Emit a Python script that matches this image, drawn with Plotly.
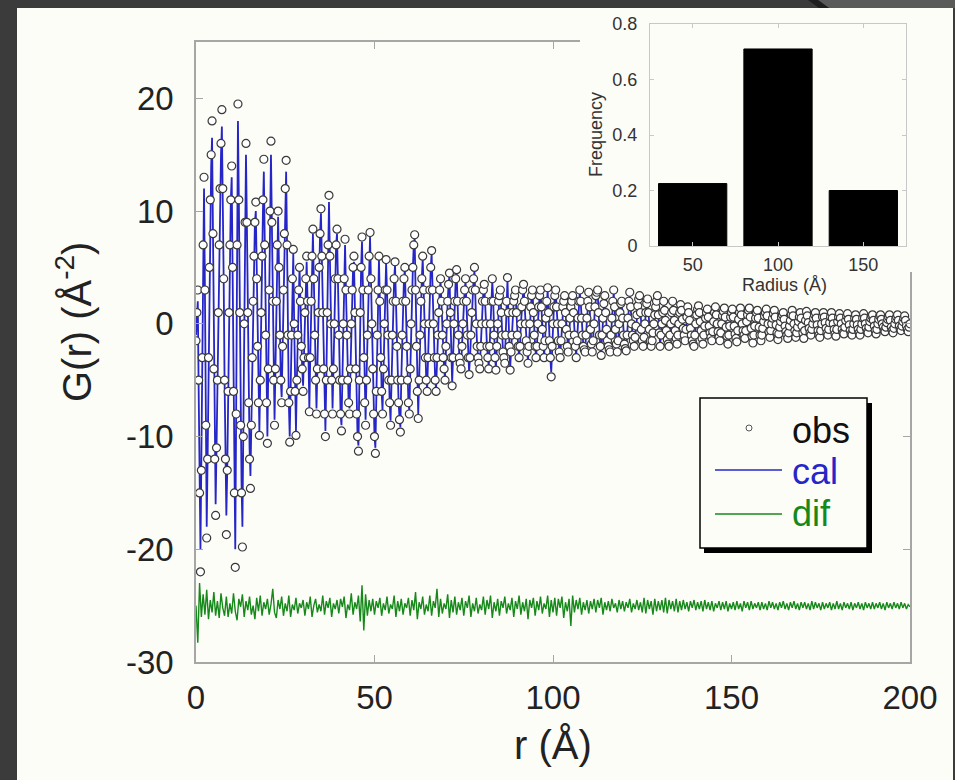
import plotly.graph_objects as go

W, H = 955, 780
FONT = "Liberation Sans, Arial, sans-serif"

r = [i * 0.25 for i in range(801)]

obs = [
    -1.5, 1, 3, -5, -15, -22, -13, -3, 7, 13,
    3, -9, -19, -12, -3, 5, 11, 15, 18, 8,
    -4, -12, -17, -11, -5, 1, 7, 12, 16, 19,
    12, 4, -5, -12, -18.7, -13, -6, 1, 7, 11,
    14, 5, -6, -15, -21.6, -8, 7, 19.5, 11, 1,
    -9, -15, -19.8, -10, 0, 9, 16, 9, 1, -7,
    -12, -14.6, -9, -3, 2, 6, 9, 10.8, 4, -2,
    -7, -9.9, -5, 1, 6, 11, 14.6, 7, -1, -7,
    -10.6, -4, 3, 10, 16.2, 9, 2, -5, -9, -4,
    2, 7, 10, 5, -1, -5, -7, -2, 3, 8,
    12, 14.5, 7, -1, -7, -10.5, -6, -1, 4, 6.6,
    0, -6, -9.9, -5, -1, 3, 5, 2, -2, -4,
    -6, -3, 1, 4, 6, 2, -3, -7.8, -3, 2,
    6, 8.4, 4, -1, -5, -8, -4, 1, 5, 8,
    10.2, 6, 1, -4, -8, -10, -5, 1, 7, 11.4,
    6, 0, -5, -8, -4, 0, 4, 7, 8.4, 4,
    -1, -5, -8, -9.5, -5, 0, 4, 7.5, 3, -1,
    -5, -7, -8, -4, 0, 3, 5, 6, 1, -4,
    -8, -10, -11.3, -5, 1, 5, 7.7, 3, -3, -7,
    -9, -5, -1, 3, 6, 8.1, 4, 0, -4, -8,
    -10, -11.5, -6, -1, 3, 6, 2, -3, -6, -8,
    -4, 0, 3, 5.7, 3, -1, -5, -7, -9, -5,
    -1, 2, 4, 5.5, 2, -2, -5, -7, -8.5, -9.6,
    -5, -1, 2, 4, 5, 2, -2, -5, -7, -8,
    -4, 0, 3, 5, 7, 7.9, 3, -2, -6, -8.4,
    -5, -1, 2, 4, 6, 3, 0, -3, -5, -6,
    -3, 0, 3, 5, 6.5, 3, 0, -3, -5, -6,
    -3, -1, 1, 3, 4, 2, -1, -3, -4, -5,
    -2, 0, 2, 3.5, 4.5, 1, -3, -5.5, -3, 0,
    2, 4, 4.8, 2, -1, -3, -3.5, -4, -2, 0,
    2, 3, 4, 2, -1, -3, -4.5, -3, -1, 1,
    3, 4, 5, 3, 0, -2, -3, -3.5, -4, -2,
    0, 2, 3, 3.5, 2, 0, -2, -3, -4, -2,
    0, 2, 4, 2, -1, -3, -4.1, -2, 0, 2,
    2.5, 3, 1, -1, -2.5, -3, -3.5, -1, 2, 4.1,
    1, -2, -4.1, -2.5, -1, 1, 2, 2.5, 3, 1,
    -1, -2, -3, -2, 0, 1.5, 3, 3.5, 2, 0,
    -1.5, -2.5, -3.5, -2, 0, 1.5, 2.5, 3, 1, -1,
    -2, -3, -2, 0, 1.5, 2.5, 3, 1.5, -0.5, -2,
    -3, -1.5, 0.5, 2, 3.2, 1, -1.5, -3, -4.7, -2,
    0, 1.5, 2.5, 3, 1.5, 0, -1.5, -2.5, -3, -1.5,
    0, 1.5, 2, 2.5, 1, -0.5, -2, -2.5, -1, 0.5,
    1.5, 2, 2.5, 1, -1, -2, -3, -1.5, 0.5, 2,
    3, 2, 0.5, -1, -2, -2.3, -2.5, -1, 0.5, 2,
    2.8, 1.5, -0.5, -1.8, -2.5, -1.5, 0, 1.5, 2.5, 2.8,
    3, 1, -1, -2, -2.8, -1, 0.5, 1.8, 2.5, 1,
    -0.5, -1.5, -2, -2.3, -2.5, -1, 0.5, 2, 3, 1.5,
    -0.5, -1.8, -2.5, -1.5, 0, 1, 1.8, 2, 0.5, -1,
    -1.8, -2.2, -2.4, -1, 0.5, 2, 2.8, 1.5, 0, -1,
    -1.5, -2, -1.2, -0.2, 0.8, 1.6, 2.2, 2.5, 1, -0.5,
    -1.5, -2, -1.2, 0, 1, 1.8, 2.2, 1, -0.5, -1.5,
    -2, -1.5, -0.8, 0, 0.8, 1.5, 2, 2.5, 0.8, -0.8,
    -2, -1, 0, 1, 2, 1.2, 0.3, -0.6, -1.4, -1.8,
    -2, -1, 0, 1, 2, 1.2, 0.3, -0.6, -1.3, -1.8,
    -1, 0, 1, 1.7, 1.2, 0.4, -0.4, -1, -1.5, -0.5,
    0.6, 1.5, 1, 0.3, -0.4, -1, -1.5, -1.8, -2, -1,
    0, 0.8, 1.3, 1.6, 1, 0.2, -0.6, -1.3, -1.8, -1,
    -0.2, 0.5, 1, 1.3, 0.6, -0.2, -0.8, -1.2, -1.5, -0.7,
    0.2, 1, 1.5, 0.8, 0, -0.7, -1.2, -1.5, -0.8, 0,
    0.7, 1.1, 1.4, 0.6, -0.3, -1.1, -1.8, -1, -0.2, 0.6,
    1, 1.3, 0.6, -0.2, -0.9, -1.3, -1.6, -0.6, 0.4, 1,
    1.4, 0.8, 0, -0.6, -1, -1.3, -0.6, 0.2, 0.8, 1.2,
    1.4, 0.6, -0.4, -1.1, -1.7, -1, -0.2, 0.5, 1, 1.2,
    0.5, -0.3, -1, -1.5, -1, -0.4, 0.2, 0.7, 1, 1.3,
    0.7, 0, -0.7, -1.2, -0.6, 0, 0.5, 0.9, 1.2, 0.6,
    -0.1, -0.8, -1.4, -0.9, -0.3, 0.2, 0.6, 0.8, 1, 0.4,
    -0.2, -0.7, -1, -1.3, -0.8, -0.2, 0.3, 0.8, 1.2, 0.7,
    0, -0.6, -1.2, -0.8, -0.3, 0.2, 0.6, 1, 0.5, -0.2,
    -0.8, -1.3, -0.6, 0.3, 1.1, 0.7, 0.1, -0.4, -0.8, -1,
    -0.5, 0, 0.5, 0.8, 1, 0.5, -0.1, -0.6, -1, -1.2,
    -0.6, 0, 0.6, 1, 0.6, 0.1, -0.4, -0.8, -1, -0.5,
    0.1, 0.6, 1, 0.5, 0, -0.5, -0.9, -1.1, -0.5, 0.2,
    0.6, 0.9, 0.5, 0, -0.5, -0.8, -0.9, -0.3, 0.3, 0.7,
    0.9, 0.4, -0.1, -0.6, -0.9, -1, -0.5, 0, 0.5, 0.8,
    0.4, -0.1, -0.5, -0.8, -1, -0.5, 0, 0.5, 0.9, 0.5,
    0, -0.4, -0.7, -0.8, -0.3, 0.2, 0.5, 0.7, 0.8, 0.3,
    -0.2, -0.6, -0.9, -0.5, 0, 0.4, 0.7, 0.8, 0.4, 0,
    -0.3, -0.6, -0.7, -0.3, 0.1, 0.4, 0.6, 0.8, 0.3, -0.3,
    -0.6, -0.8, -0.4, 0, 0.4, 0.6, 0.8, 0.3, -0.2, -0.5,
    -0.6, -0.2, 0.2, 0.5, 0.7, 0.3, -0.2, -0.5, -0.7, -0.3,
    0,
]

cal = [
    -1, 0.5, 2, -6, -16, -20, -12, -3, 6, 12,
    3, -8, -18, -12, -4, 4, 10, 14, 16.5, 8,
    -3, -11, -16, -11, -5, 1, 6, 11, 15, 17.5,
    12, 4, -5, -12, -17, -13, -6, 1, 7, 11,
    13, 5, -6, -14, -20, -8, 6, 18, 11, 1,
    -9, -14, -18, -10, 0, 8, 15, 9, 1, -7,
    -11, -13.5, -9, -3, 2, 6, 9, 10, 4, -2,
    -7, -9.5, -5, 1, 6, 10, 13.5, 7, -1, -7,
    -10, -4, 3, 9, 15, 9, 2, -5, -8.5, -4,
    2, 6.5, 9.5, 5, -1, -5, -6.5, -2, 3, 8,
    12, 13.5, 7, -1, -7, -10, -6, -1, 4, 6.2,
    0, -6, -9.5, -5, -1, 3, 5, 2, -2, -4,
    -5.5, -3, 1, 4, 5.5, 2, -3, -7.5, -3, 2,
    6, 8, 4, -1, -5, -7.5, -4, 1, 5, 8,
    9.8, 6, 1, -4, -8, -9.5, -5, 1, 7, 10.8,
    6, 0, -5, -7.5, -4, 0, 4, 7, 8, 4,
    -1, -5, -8, -9, -5, 0, 4, 7, 3, -1,
    -5, -7, -7.5, -4, 0, 3, 5, 5.5, 1, -4,
    -8, -10, -10.8, -5, 1, 5, 7.3, 3, -3, -7,
    -8.5, -5, -1, 3, 6, 7.7, 4, 0, -4, -8,
    -10, -11, -6, -1, 3, 5.7, 2, -3, -6, -7.7,
    -4, 0, 3, 5.4, 3, -1, -5, -7, -8.6, -5,
    -1, 2, 4, 5.2, 2, -2, -5, -7, -8.3, -9.2,
    -5, -1, 2, 4, 4.8, 2, -2, -5, -7, -7.7,
    -4, 0, 3, 5, 7, 7.6, 3, -2, -6, -8,
    -5, -1, 2, 4, 5.8, 3, 0, -3, -5, -5.8,
    -3, 0, 3, 5, 6.2, 3, 0, -3, -5, -5.8,
    -3, -1, 1, 3, 3.8, 2, -1, -3, -4, -4.8,
    -2, 0, 2, 3.5, 4.3, 1, -3, -5.2, -3, 0,
    2, 4, 4.6, 2, -1, -3, -3.5, -3.8, -2, 0,
    2, 3, 3.8, 2, -1, -3, -4.3, -3, -1, 1,
    3, 4, 4.7, 3, 0, -2, -3, -3.5, -3.8, -2,
    0, 2, 3, 3.4, 2, 0, -2, -3, -3.8, -2,
    0, 2, 3.8, 2, -1, -3, -3.9, -2, 0, 2,
    2.5, 2.9, 1, -1, -2.5, -3, -3.4, -1, 2, 3.9,
    1, -2, -3.9, -2.5, -1, 1, 2, 2.5, 2.9, 1,
    -1, -2, -2.9, -2, 0, 1.5, 2.9, 3.3, 2, 0,
    -1.5, -2.5, -3.3, -2, 0, 1.5, 2.5, 2.9, 1, -1,
    -2, -2.9, -2, 0, 1.5, 2.5, 2.9, 1.5, -0.5, -2,
    -2.9, -1.5, 0.5, 2, 3, 1, -1.5, -3, -4.3, -2,
    0, 1.4, 2.4, 2.9, 1.5, 0, -1.4, -2.4, -2.9, -1.5,
    0, 1.4, 2, 2.4, 1, -0.5, -1.9, -2.4, -1, 0.5,
    1.4, 2, 2.4, 1, -1, -2, -2.8, -1.5, 0.5, 1.9,
    2.8, 2, 0.5, -1, -2, -2.2, -2.4, -1, 0.5, 1.9,
    2.6, 1.5, -0.5, -1.7, -2.4, -1.5, 0, 1.5, 2.4, 2.7,
    2.8, 1, -1, -2, -2.6, -1, 0.5, 1.7, 2.4, 1,
    -0.5, -1.5, -2, -2.2, -2.4, -1, 0.5, 1.9, 2.8, 1.5,
    -0.5, -1.7, -2.4, -1.5, 0, 1, 1.7, 1.9, 0.5, -1,
    -1.7, -2.1, -2.3, -1, 0.5, 1.9, 2.6, 1.5, 0, -1,
    -1.5, -1.9, -1.2, -0.2, 0.8, 1.5, 2.1, 2.4, 1, -0.5,
    -1.4, -1.9, -1.2, 0, 1, 1.7, 2.1, 1, -0.5, -1.4,
    -1.9, -1.5, -0.8, 0, 0.8, 1.4, 1.9, 2.3, 0.8, -0.8,
    -1.9, -1, 0, 1, 1.9, 1.2, 0.3, -0.6, -1.3, -1.7,
    -1.9, -1, 0, 1, 1.9, 1.2, 0.3, -0.6, -1.3, -1.7,
    -1, 0, 1, 1.6, 1.2, 0.4, -0.4, -1, -1.4, -0.5,
    0.6, 1.4, 1, 0.3, -0.4, -1, -1.4, -1.7, -1.9, -1,
    0, 0.8, 1.2, 1.5, 1, 0.2, -0.6, -1.2, -1.7, -1,
    -0.2, 0.5, 1, 1.2, 0.6, -0.2, -0.8, -1.1, -1.4, -0.7,
    0.2, 1, 1.4, 0.8, 0, -0.7, -1.1, -1.4, -0.8, 0,
    0.7, 1.1, 1.3, 0.6, -0.3, -1.1, -1.7, -1, -0.2, 0.6,
    1, 1.2, 0.6, -0.2, -0.9, -1.2, -1.5, -0.6, 0.4, 1,
    1.3, 0.8, 0, -0.6, -1, -1.2, -0.6, 0.2, 0.8, 1.1,
    1.3, 0.6, -0.4, -1.1, -1.6, -1, -0.2, 0.5, 1, 1.1,
    0.5, -0.3, -1, -1.4, -1, -0.4, 0.2, 0.7, 1, 1.2,
    0.7, 0, -0.7, -1.1, -0.6, 0, 0.5, 0.9, 1.1, 0.6,
    -0.1, -0.8, -1.3, -0.9, -0.3, 0.2, 0.6, 0.8, 0.9, 0.4,
    -0.2, -0.7, -1, -1.2, -0.8, -0.2, 0.3, 0.8, 1.1, 0.7,
    0, -0.6, -1.1, -0.8, -0.3, 0.2, 0.6, 0.9, 0.5, -0.2,
    -0.8, -1.2, -0.6, 0.3, 1, 0.7, 0.1, -0.4, -0.8, -0.9,
    -0.5, 0, 0.5, 0.8, 0.9, 0.5, -0.1, -0.6, -1, -1.1,
    -0.6, 0, 0.6, 0.9, 0.6, 0.1, -0.4, -0.8, -0.9, -0.5,
    0.1, 0.6, 0.9, 0.5, 0, -0.5, -0.9, -1, -0.5, 0.2,
    0.6, 0.8, 0.5, 0, -0.5, -0.8, -0.8, -0.3, 0.3, 0.7,
    0.8, 0.4, -0.1, -0.6, -0.9, -0.9, -0.5, 0, 0.5, 0.8,
    0.4, -0.1, -0.5, -0.8, -0.9, -0.5, 0, 0.5, 0.8, 0.5,
    0, -0.4, -0.7, -0.7, -0.3, 0.2, 0.5, 0.7, 0.7, 0.3,
    -0.2, -0.6, -0.8, -0.5, 0, 0.4, 0.7, 0.7, 0.4, 0,
    -0.3, -0.6, -0.7, -0.3, 0.1, 0.4, 0.6, 0.7, 0.3, -0.3,
    -0.6, -0.7, -0.4, 0, 0.4, 0.6, 0.7, 0.3, -0.2, -0.5,
    -0.6, -0.2, 0.2, 0.5, 0.6, 0.3, -0.2, -0.5, -0.6, -0.3,
    0,
]

# difference curve, every 0.5 A, plotted with its -25 offset
r_dif = [i * 0.5 for i in range(401)]
dif = [
    -25, -28.3, -23, -26, -24, -25.8, -23.6, -26.2, -24.5, -25.6,
    -23.8, -25.9, -24.6, -26.1, -23.9, -25.2, -25.9, -24.2, -26, -24.8,
    -25.7, -23.9, -25.5, -26.3, -24.4, -25.1, -24, -26, -24.6, -25.4,
    -24.2, -25.8, -25, -26.2, -24.3, -25.5, -24.1, -25.9, -24.7, -25.3,
    -24.4, -25.8, -24.9, -23.5, -25.6, -26.1, -24.5, -25.3, -24.2, -25.9,
    -24.8, -25.5, -24.1, -26, -24.9, -25.4, -24.3, -25.7, -24.8, -25.2,
    -24.5, -25.9, -24.7, -25.3, -24.2, -26, -25, -24.4, -25.6, -24.9,
    -25.5, -24.1, -25.8, -24.6, -25.2, -24.3, -26, -24.8, -25.3, -24.5,
    -25.7, -24.4, -25.1, -24.2, -26.1, -24.9, -25.4, -23.9, -25.8, -24.7,
    -25.3, -24.1, -26.4, -23.2, -27.2, -24, -25.9, -24.5, -25.5, -24.4,
    -25.8, -24.6, -25.2, -24.3, -25.9, -24.8, -25.4, -24.2, -25.7, -24.9,
    -25.3, -24.1, -26, -24.6, -25.5, -24.4, -25.8, -24.8, -25.2, -24.3,
    -25.9, -24.5, -25.4, -23.8, -26.2, -24.7, -25.3, -24.2, -25.8, -24.9,
    -25.5, -24.1, -25.9, -24.6, -25.2, -23.5, -26, -24.4, -25.7, -24.8,
    -25.3, -24, -26.1, -24.5, -25.6, -24.2, -25.8, -24.7, -25.4, -24.3,
    -25.9, -24.6, -25.2, -24.1, -26, -24.8, -25.5, -24.3, -25.7, -24.9,
    -25.4, -24.2, -25.8, -24.5, -25.3, -24.1, -26.1, -24.7, -25.5, -24.4,
    -25.9, -24.6, -25.2, -24.2, -25.7, -24.8, -25.4, -24.3, -26, -24.6,
    -25.3, -24.1, -25.8, -24.7, -25.5, -24.4, -26.2, -24.5, -25.2, -24.3,
    -25.9, -24.6, -25.4, -24.2, -25.7, -24.8, -25.3, -24.1, -26, -24.5,
    -25.6, -24.3, -25.9, -24.4, -25.2, -24.2, -26.1, -24.7, -25.5, -24.4,
    -26.8, -24.1, -25.6, -24.5, -25.3, -24.3, -25.8, -24.7, -25.4, -24.5,
    -25.7, -24.6, -25.3, -24.4, -25.6, -24.5, -25.2, -24.3, -25.8, -24.7,
    -25.4, -24.6, -25.5, -24.4, -25.2, -24.8, -25.6, -24.5, -25.3, -24.6,
    -25.5, -24.7, -25.2, -24.4, -25.6, -24.8, -25.3, -24.5, -25.4, -24.7,
    -25.6, -24.3, -25.7, -24.5, -25.3, -24.6, -25.8, -24.4, -25.5, -24.6,
    -25.4, -24.5, -25.6, -24.3, -25.7, -24.5, -25.3, -24.6, -25.5, -24.4,
    -25.6, -24.6, -25.4, -24.5, -25.3, -24.7, -25.5, -24.6, -25.2, -24.5,
    -25.4, -24.7, -25.3, -24.6, -25.5, -24.5, -25.3, -24.7, -25.4, -24.6,
    -25.5, -24.8, -25.2, -24.6, -25.4, -24.7, -25.3, -24.6, -25.5, -24.8,
    -25.3, -24.7, -25.4, -24.6, -25.3, -24.8, -25.5, -24.6, -25.2, -24.7,
    -25.4, -24.6, -25.3, -24.8, -25.2, -24.7, -25.4, -24.7, -25.3, -24.8,
    -25.4, -24.6, -25.2, -24.7, -25.3, -24.8, -25.4, -24.7, -25.2, -24.6,
    -25.3, -24.8, -25.4, -24.7, -25.2, -24.6, -25.3, -24.8, -25.4, -24.7,
    -25.2, -24.7, -25.3, -24.8, -25.4, -24.6, -25.3, -24.7, -25.2, -24.8,
    -25.4, -24.7, -25.3, -24.8, -25.2, -24.7, -25.4, -24.8, -25.3, -24.6,
    -25.3, -24.8, -25.4, -24.7, -25.2, -24.8, -25.3, -24.7, -25.4, -24.8,
    -25.2, -24.7, -25.3, -24.8, -25.4, -24.7, -25.2, -24.8, -25.3, -24.7,
    -25.3, -24.8, -25.2, -24.7, -25.3, -24.8, -25.4, -24.7, -25.2, -24.8,
    -25.3, -24.7, -25.2, -24.8, -25.3, -24.7, -25.2, -24.8, -25.3, -24.9,
    -25.1,
]

# inset: particle size distribution
radius = [50, 100, 150]
freq = [0.225, 0.71, 0.2]

x_ticks = [0, 50, 100, 150, 200]
y_ticks = [-30, -20, -10, 0, 10, 20]
freq_ticks = [0, 0.2, 0.4, 0.6, 0.8]

CREAM = '#fdfdf8'
BLUE = '#2626c8'
GREEN = '#16891a'


def px(x):
    return x / W


def py(y):
    return 1 - y / H


fig = go.Figure()

fig.add_trace(go.Scatter(x=r_dif, y=dif, mode='lines', line=dict(color=GREEN, width=1.4),
                         name='dif', hoverinfo='skip'))
fig.add_trace(go.Scatter(x=r, y=cal, mode='lines', line=dict(color=BLUE, width=1.8),
                         name='cal'))
fig.add_trace(go.Scatter(x=r, y=obs, mode='markers', name='obs',
                         marker=dict(symbol='circle', size=8, color='white',
                                     line=dict(color='#383838', width=1.2))))

# empty subplot whose background hides the main frame behind the inset
fig.add_trace(go.Scatter(x=[], y=[], xaxis='x2', yaxis='y2', showlegend=False))

fig.add_trace(go.Bar(x=radius, y=freq, width=40, xaxis='x3', yaxis='y3',
                     marker=dict(color='black', line=dict(color='black', width=1)),
                     showlegend=False))

main_axis = dict(showline=True, linecolor='#a6a6a6', linewidth=1.5, mirror='ticks',
                 ticks='inside', ticklen=7, tickcolor='#a6a6a6', tickwidth=1.2,
                 showgrid=False, zeroline=False, automargin=False,
                 tickfont=dict(family=FONT, size=33, color='#222'))
inset_axis = dict(showline=True, linecolor='#c8c8c8', linewidth=1, mirror='ticks',
                  ticks='inside', ticklen=4, tickcolor='#c8c8c8',
                  showgrid=False, zeroline=False, automargin=False,
                  tickfont=dict(family=FONT, size=18, color='#333'))

fig.update_layout(
    width=W, height=H, autosize=False,
    margin=dict(l=0, r=0, t=0, b=0),
    paper_bgcolor='#3b3b3b', plot_bgcolor=CREAM,
    showlegend=False,
    xaxis=dict(main_axis, domain=[px(196), px(910)], range=[0, 200],
               tickvals=x_ticks, ticktext=[str(v) for v in x_ticks],
               ticklabelstandoff=6, anchor='y'),
    yaxis=dict(main_axis, domain=[py(662), py(42)], range=[-30, 25],
               tickvals=y_ticks, ticktext=[str(v) for v in y_ticks],
               ticklabelstandoff=14, anchor='x'),
    xaxis2=dict(domain=[px(580), px(916)], range=[0, 1], visible=False,
                automargin=False, anchor='y2'),
    yaxis2=dict(domain=[py(272), py(9)], range=[0, 1], visible=False,
                automargin=False, anchor='x2'),
    xaxis3=dict(inset_axis, domain=[px(650), px(906)], range=[25, 175],
                tickvals=radius, ticklabelstandoff=2, anchor='y3'),
    yaxis3=dict(inset_axis, domain=[py(246), py(24)], range=[0, 0.8],
                tickvals=freq_ticks, ticktext=['0', '0.2', '0.4', '0.6', '0.8'],
                ticklabelstandoff=8, anchor='x3'),
)

shapes = [
    # cream slide panel
    dict(type='rect', xref='paper', yref='paper', x0=px(17), x1=px(953), y0=0, y1=py(8),
         fillcolor=CREAM, line=dict(width=0), layer='below'),
    # slide decoration, top right
    dict(type='path', xref='paper', yref='paper',
         path=f'M {px(818)},1 L {px(955)},1 L {px(955)},{py(8)} L {px(829)},{py(8)} Z',
         fillcolor='#5a5a5a', line=dict(width=0), layer='below'),
    dict(type='path', xref='paper', yref='paper',
         path=f'M {px(808)},1 L {px(818)},1 L {px(829)},{py(8)} L {px(819)},{py(8)} Z',
         fillcolor='#1e1e1e', line=dict(width=0), layer='below'),
    # legend box with shadow
    dict(type='rect', xref='paper', yref='paper', x0=px(704), x1=px(872), y0=py(553), y1=py(403),
         fillcolor='black', line=dict(width=0), layer='above'),
    dict(type='rect', xref='paper', yref='paper', x0=px(700), x1=px(867), y0=py(548), y1=py(398),
         fillcolor=CREAM, line=dict(color='black', width=1.5), layer='above'),
    dict(type='circle', xref='paper', yref='paper', x0=px(746), x1=px(752), y0=py(431), y1=py(425),
         fillcolor='white', line=dict(color='#555', width=1), layer='above'),
    dict(type='line', xref='paper', yref='paper', x0=px(715), x1=px(782), y0=py(470), y1=py(470),
         line=dict(color=BLUE, width=1.6), layer='above'),
    dict(type='line', xref='paper', yref='paper', x0=px(715), x1=px(782), y0=py(514), y1=py(514),
         line=dict(color=GREEN, width=1.4), layer='above'),
]
fig.update_layout(shapes=shapes)

annotations = [
    dict(text='r (Å)', x=px(553), y=py(745), font=dict(family=FONT, size=40, color='#222')),
    dict(text='G(r) (Å<sup>-2</sup>)', x=px(74), y=py(322), textangle=-90,
         font=dict(family=FONT, size=40, color='#222')),
    dict(text='Radius (Å)', x=px(784), y=py(285), font=dict(family=FONT, size=18, color='#333')),
    dict(text='Frequency', x=px(596), y=py(135), textangle=-90,
         font=dict(family=FONT, size=18, color='#333')),
    dict(text='obs', x=px(790), y=py(430), xanchor='left',
         font=dict(family=FONT, size=36, color='#111')),
    dict(text='cal', x=px(790), y=py(471), xanchor='left',
         font=dict(family=FONT, size=36, color=BLUE)),
    dict(text='dif', x=px(790), y=py(513), xanchor='left',
         font=dict(family=FONT, size=36, color=GREEN)),
]
for a in annotations:
    a.setdefault('xanchor', 'center')
    a.update(xref='paper', yref='paper', yanchor='middle', showarrow=False)
fig.update_layout(annotations=annotations)

# drop the default page margin so the figure fills the window exactly
fig.write_html("out.html", config={'displayModeBar': False},
               post_script="document.body.style.margin='0';")
